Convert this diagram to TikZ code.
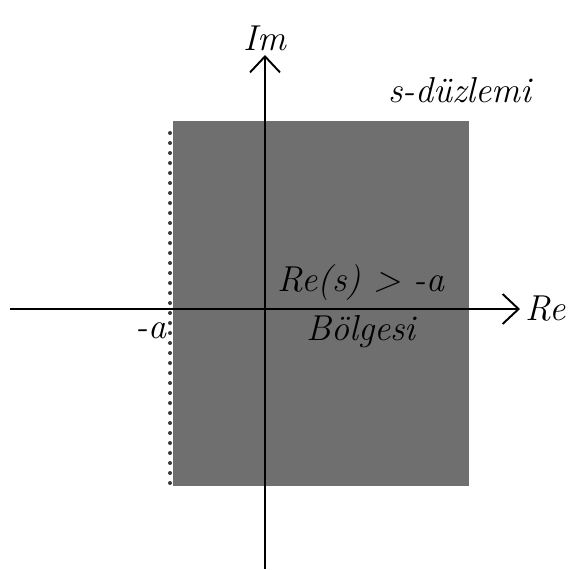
\documentclass[tikz,border=0pt]{standalone}
\usepackage{xcolor}
\usetikzlibrary{arrows.meta,positioning}
\definecolor{RegionGray}{HTML}{6F6F6F}
\definecolor{EdgeGray}{HTML}{3A3A3A}

\begin{document}
\begin{tikzpicture}[x=0.02cm,y=-0.02cm,
  axis/.style={line width=1.2pt,-{Straight Barb[length=3.2mm,width=6mm,line width=1.1pt]}},
  lbl/.style={font=\fontsize{20.5}{24}\selectfont\itshape,inner sep=1pt}]
\useasboundingbox (0,0) rectangle (574,569);
% region Re(s) > -a
\fill[RegionGray] (173,121) rectangle (469,486);
\foreach \y in {133,143,...,483}
  \fill[EdgeGray] (170,\y) circle (2);
% axes
\coordinate (xs) at (10,309);
\coordinate (xe) at (520,309);
\coordinate (ys) at (265,569);
\coordinate (ye) at (265,55);
\draw[axis] (xs) -- (xe);
\draw[axis] (ys) -- (ye);
% labels
\node[lbl,right=2pt of xe] (re) {Re};
\node[lbl,above=1pt of ye] (im) {Im};
\node[lbl] (plane) at (460,90) {s-düzlemi};
\node[lbl] (mina) at (151,331) {-a};
\node[lbl] (cond) at (361,283) {Re(s) > -a};
\node[lbl,below=6pt of cond] (reg) {Bölgesi};
\end{tikzpicture}
\end{document}
